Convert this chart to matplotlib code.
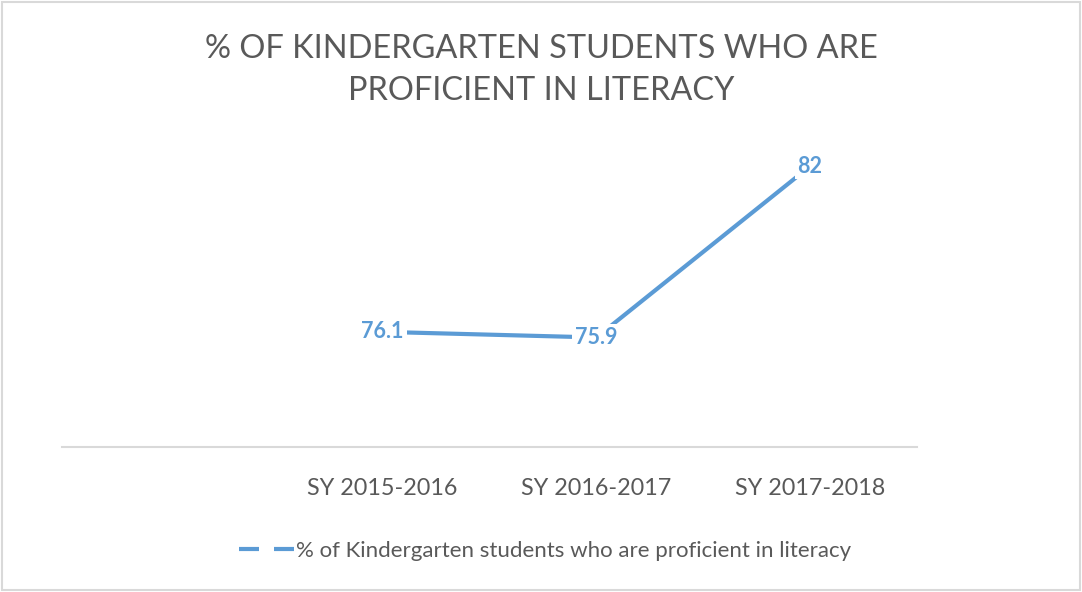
import matplotlib.pyplot as plt
from matplotlib.lines import Line2D

plt.rcParams['font.family'] = ['Lato', 'DejaVu Sans']

years = ['SY 2015-2016', 'SY 2016-2017', 'SY 2017-2018']
pct = [76.1, 75.9, 82]
series_name = '% of Kindergarten students who are proficient in literacy'
title = '% OF KINDERGARTEN STUDENTS WHO ARE\nPROFICIENT IN LITERACY'

blue = '#5B9BD5'
grey = '#595959'

fig = plt.figure(figsize=(10.82, 5.92), dpi=100)
ax = fig.add_axes([62/1082, 1 - 447/592, (917 - 62)/1082, (447 - 110)/592])

x = [1, 2, 3]
ax.plot(x, pct, color=blue, lw=3, solid_capstyle='butt', zorder=2)
for xi, v in zip(x, pct):
    ax.text(xi, v, f'{v:g}', ha='center', va='center', color=blue,
            fontsize=15.5, fontweight='bold', zorder=3,
            bbox=dict(facecolor='white', edgecolor='none', pad=2))

ax.set_xlim(-0.5, 3.5)
ax.set_ylim(72, 84)
ax.set_xticks(x)
ax.set_xticklabels(years, fontsize=16.8, color=grey)
ax.tick_params(axis='x', length=0, pad=22)
ax.set_yticks([])
for s in ['top', 'right', 'left']:
    ax.spines[s].set_visible(False)
ax.spines['bottom'].set_color('#D9D9D9')
ax.spines['bottom'].set_linewidth(1.5)

fig.text(0.5, 1 - 70/592, title, ha='center', va='center', fontsize=23.4,
         color=grey, linespacing=1.5)

handle = Line2D([], [], color=blue, lw=3, linestyle=(0, (4.8, 3.6)))
fig.legend([handle], [series_name], loc='center', bbox_to_anchor=(545/1082, 1 - 551/592),
           frameon=False, fontsize=16, labelcolor=grey, handlelength=2.5,
           handletextpad=0.1)

fig.patches.append(plt.Rectangle((2/1082, 2/592), 1078/1082, 588/592,
                                 transform=fig.transFigure, fill=False,
                                 edgecolor='#D9D9D9', lw=1.5))

fig.savefig('out.png', dpi=100, facecolor='white')
